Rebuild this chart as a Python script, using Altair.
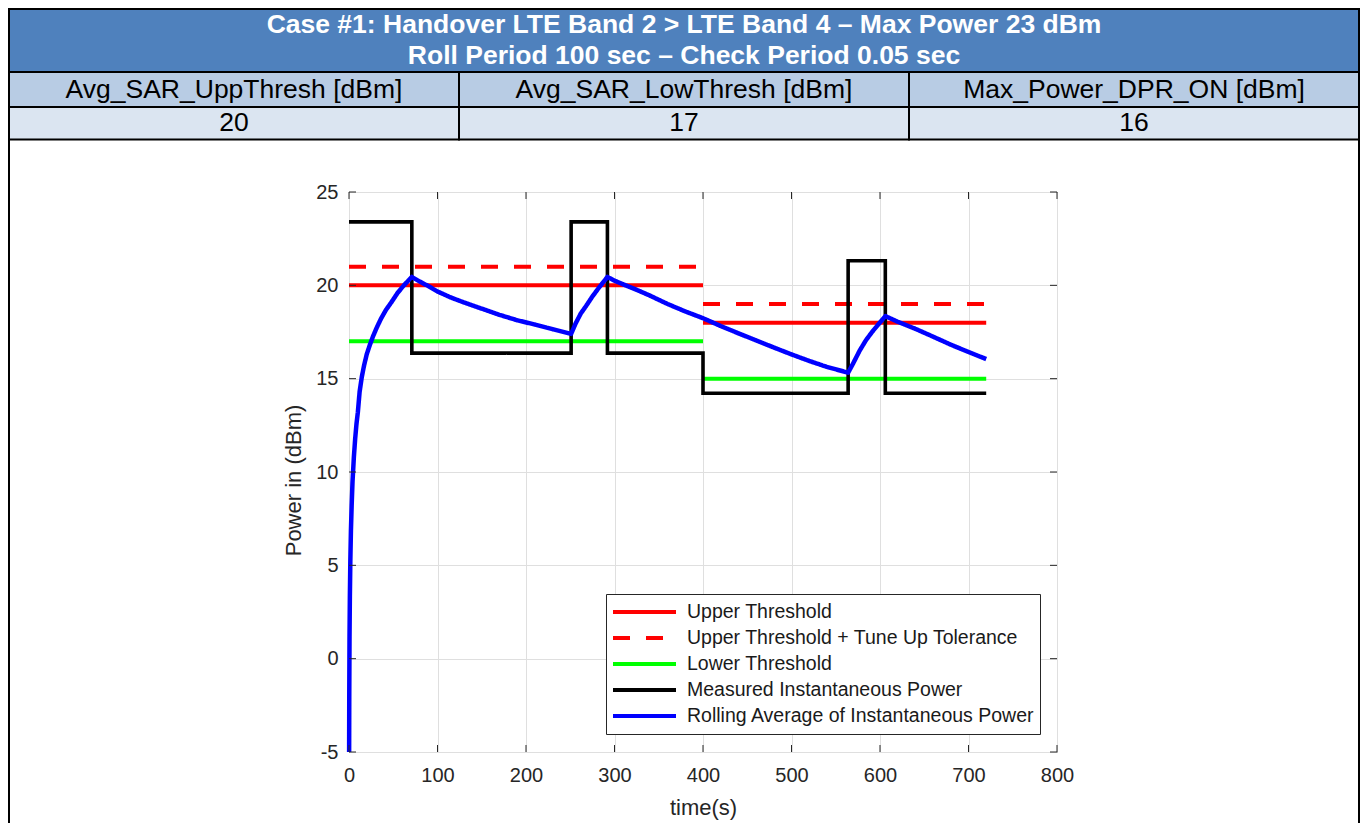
import altair as alt
import pandas as pd

# ------------------------------------------------------------------ data
header_lines = [
    "Case #1: Handover LTE Band 2 > LTE Band 4 – Max Power 23 dBm",
    "Roll Period 100 sec – Check Period 0.05 sec",
]
param_names = ["Avg_SAR_UppThresh [dBm]", "Avg_SAR_LowThresh [dBm]", "Max_Power_DPR_ON [dBm]"]
param_values = ["20", "17", "16"]

series_names = [
    "Upper Threshold",
    "Upper Threshold + Tune Up Tolerance",
    "Lower Threshold",
    "Measured Instantaneous Power",
    "Rolling Average of Instantaneous Power",
]
series_colors = ["#FF0000", "#FF0000", "#00FF00", "#000000", "#0000FF"]
series_dashes = [[1, 0], [17, 16], [1, 0], [1, 0], [1, 0]]

segment_start = [0, 400]
segment_end = [400, 720]
upper_threshold = [20, 18]
upper_tolerance = [21, 19]
lower_threshold = [17, 15]

measured_time = [0, 71, 251, 292, 400, 564, 606, 720]
measured_power = [23.4, 16.37, 23.4, 16.37, 14.22, 21.32, 14.22, 14.22]

rolling_time = [0.15, 0.3, 0.6, 1.0, 1.5, 2.2, 3.0, 4.0, 5.5, 7.0, 8.5, 10, 12, 14.5, 17, 20,
                23.5, 27, 31, 36, 42, 48, 55, 62, 67, 71,
                80, 90, 100, 115, 130, 150, 170, 190, 210, 230, 251,
                256, 262, 268, 275, 282, 292,
                300, 310, 325, 340, 360, 380, 400,
                420, 440, 460, 480, 500, 520, 540, 564,
                570, 577, 584, 591, 598, 606,
                620, 640, 660, 680, 700, 720]
rolling_power = [-5.0, -2.0, 1.2, 3.4, 5.2, 6.9, 8.2, 9.5, 10.8, 11.8, 12.6, 13.2, 14.3, 15.1, 15.7, 16.3,
                 16.8, 17.25, 17.7, 18.2, 18.7, 19.1, 19.6, 20.0, 20.25, 20.45,
                 20.2, 19.95, 19.67, 19.35, 19.08, 18.75, 18.42, 18.13, 17.9, 17.65, 17.4,
                 17.95, 18.5, 18.9, 19.4, 19.85, 20.45,
                 20.25, 20.05, 19.76, 19.45, 19.0, 18.6, 18.24,
                 17.82, 17.43, 17.05, 16.67, 16.3, 15.95, 15.63, 15.32,
                 15.85, 16.5, 17.05, 17.5, 17.9, 18.35,
                 18.05, 17.67, 17.25, 16.82, 16.43, 16.05]

x_ticks = [0, 100, 200, 300, 400, 500, 600, 700, 800]
y_ticks = [-5, 0, 5, 10, 15, 20, 25]

# ------------------------------------------------------------------ layout / style
FONT = "Liberation Sans"
AX = "#262626"
W, H = 708, 560
TICK = 7
PAD = {"left": 341, "top": 184, "right": 303, "bottom": 71}

# ------------------------------------------------------------------ table
tx = alt.Scale(domain=[0, 3], range=[-340, 1010], nice=False, zero=False)
ty = alt.Scale(domain=[0, 2, 3, 4, 25], range=[-183, -120, -85, -52.5, 632], nice=False, zero=False)

header_df = pd.DataFrame({"c0": [0], "c1": [3], "r0": [0], "r1": [2]})
names_df = pd.DataFrame({"c0": [0, 1, 2], "c1": [1, 2, 3], "r0": [2, 2, 2], "r1": [3, 3, 3],
                         "label": param_names})
values_df = pd.DataFrame({"c0": [0, 1, 2], "c1": [1, 2, 3], "r0": [3, 3, 3], "r1": [4, 4, 4],
                          "label": param_values})
header_text_df = pd.DataFrame({"row": [0, 1], "label": header_lines})
frame_df = pd.DataFrame({"c": [0, 3], "r0": [0, 0], "r1": [25, 25]})


def cell_rects(df, fill):
    return alt.Chart(df).mark_rect(fill=fill, stroke="black", strokeWidth=2).encode(
        x=alt.X("c0:Q", scale=tx, axis=None),
        x2="c1:Q",
        y=alt.Y("r0:Q", scale=ty, axis=None),
        y2="r1:Q",
    )


def cell_texts(df, **kw):
    return alt.Chart(df).transform_calculate(
        cx="(datum.c0 + datum.c1) / 2", cy="(datum.r0 + datum.r1) / 2"
    ).mark_text(font=FONT, fontSize=26.5, align="center", baseline="middle", **kw).encode(
        x=alt.X("cx:Q", scale=tx, axis=None),
        y=alt.Y("cy:Q", scale=ty, axis=None),
        text="label:N",
    )


header_text = alt.Chart(header_text_df).transform_calculate(
    cx="1.5", cy="datum.row + 0.5"
).mark_text(font=FONT, fontSize=26.5, fontWeight="bold", color="white",
            align="center", baseline="middle").encode(
    x=alt.X("cx:Q", scale=tx, axis=None),
    y=alt.Y("cy:Q", scale=ty, axis=None),
    text="label:N",
)

frame = alt.Chart(frame_df).mark_rule(color="black", strokeWidth=2).encode(
    x=alt.X("c:Q", scale=tx, axis=None),
    y=alt.Y("r0:Q", scale=ty, axis=None),
    y2="r1:Q",
)

table_layer = alt.layer(
    frame,
    cell_rects(header_df, "#4F81BD"),
    cell_rects(names_df, "#B8CCE4"),
    cell_rects(values_df, "#DBE5F1"),
    header_text,
    cell_texts(names_df, color="black"),
    cell_texts(values_df, color="black"),
)

# ------------------------------------------------------------------ plot data frames
thr_rows = []
for name, vals in zip(series_names[:3], [upper_threshold, upper_tolerance, lower_threshold]):
    for k, (a, b, v) in enumerate(zip(segment_start, segment_end, vals)):
        thr_rows.append({"series": name, "seg": f"{name}-{k}", "t": a, "p": v})
        thr_rows.append({"series": name, "seg": f"{name}-{k}", "t": b, "p": v})
thr_df = pd.DataFrame(thr_rows)
meas_df = pd.DataFrame({"series": series_names[3], "t": measured_time, "p": measured_power})
roll_df = pd.DataFrame({"series": series_names[4], "t": rolling_time, "p": rolling_power})
xtick_df = pd.DataFrame({"tv": x_ticks})
ytick_df = pd.DataFrame({"pv": y_ticks})

xs = alt.Scale(domain=[0, 800], nice=False, zero=False)
ys = alt.Scale(domain=[-5, 25], nice=False, zero=False)
cs = alt.Scale(domain=series_names, range=series_colors)
ds = alt.Scale(domain=series_names, range=series_dashes)

legend = alt.Legend(
    title=None, orient="none", legendX=257, legendY=402,
    symbolType="stroke", symbolSize=3969, symbolStrokeWidth=4,
    clipHeight=26, rowPadding=0, padding=5, labelOffset=9,
    labelFont=FONT, labelFontSize=19.5, labelColor="#1a1a1a", labelLimit=0,
    strokeColor=AX, fillColor="white",
)

main_x = alt.Axis(values=x_ticks, orient="bottom", title="time(s)", grid=True, gridColor="#DFDFDF",
                  domain=False, ticks=False, labelPadding=13, labelFont=FONT, labelFontSize=20,
                  labelColor=AX, titleFont=FONT, titleFontSize=22, titleFontWeight="normal",
                  titleColor=AX, titlePadding=12, labelFlush=False, labelOverlap=False,
                  labelExpr="format(datum.value, 'd')")
main_y = alt.Axis(values=y_ticks, orient="left", title="Power in (dBm)", grid=True, gridColor="#DFDFDF",
                  domain=False, ticks=False, labelPadding=11, labelFont=FONT, labelFontSize=20,
                  labelColor=AX, titleFont=FONT, titleFontSize=22, titleFontWeight="normal",
                  titleColor=AX, titlePadding=10, titleY=288, labelFlush=False, labelOverlap=False,
                  labelExpr="replace(format(datum.value, 'd'), '\u2212', '-')")

thr_layer = alt.Chart(thr_df).mark_line(strokeWidth=4).encode(
    x=alt.X("t:Q", scale=xs, axis=main_x),
    y=alt.Y("p:Q", scale=ys, axis=main_y),
    color=alt.Color("series:N", scale=cs, legend=legend),
    strokeDash=alt.StrokeDash("series:N", scale=ds, legend=legend),
    detail="seg:N",
)
meas_layer = alt.Chart(meas_df).mark_line(strokeWidth=3.6, interpolate="step-after").encode(
    x=alt.X("t:Q", scale=xs, axis=None),
    y=alt.Y("p:Q", scale=ys, axis=None),
    color=alt.Color("series:N", scale=cs, legend=legend),
    strokeDash=alt.StrokeDash("series:N", scale=ds, legend=legend),
)
roll_layer = alt.Chart(roll_df).mark_line(strokeWidth=4.5, strokeJoin="round").encode(
    x=alt.X("t:Q", scale=xs, axis=None),
    y=alt.Y("p:Q", scale=ys, axis=None),
    color=alt.Color("series:N", scale=cs, legend=legend),
    strokeDash=alt.StrokeDash("series:N", scale=ds, legend=legend),
)

# inward tick marks on all four sides (MATLAB box style)
tick_bottom = alt.Chart(xtick_df).mark_rule(color=AX, strokeWidth=1).encode(
    x=alt.X("tv:Q", scale=xs, axis=None), y=alt.value(H), y2=alt.value(H - TICK))
tick_top = alt.Chart(xtick_df).mark_rule(color=AX, strokeWidth=1).encode(
    x=alt.X("tv:Q", scale=xs, axis=None), y=alt.value(0), y2=alt.value(TICK))
tick_left = alt.Chart(ytick_df).mark_rule(color=AX, strokeWidth=1).encode(
    y=alt.Y("pv:Q", scale=ys, axis=None), x=alt.value(0), x2=alt.value(TICK))
tick_right = alt.Chart(ytick_df).mark_rule(color=AX, strokeWidth=1).encode(
    y=alt.Y("pv:Q", scale=ys, axis=None), x=alt.value(W), x2=alt.value(W - TICK))

plot_layer = alt.layer(
    thr_layer, meas_layer, roll_layer, tick_bottom, tick_top, tick_left, tick_right
).resolve_axis(x="independent", y="independent")

chart = alt.layer(table_layer, plot_layer).resolve_scale(
    x="independent", y="independent"
).properties(
    width=W, height=H, padding=PAD, autosize=alt.AutoSizeParams(type="none"),
    background="white",
).configure_view(stroke=AX, strokeWidth=1)

chart.save("out.html", embed_options={"renderer": "svg", "actions": False})
